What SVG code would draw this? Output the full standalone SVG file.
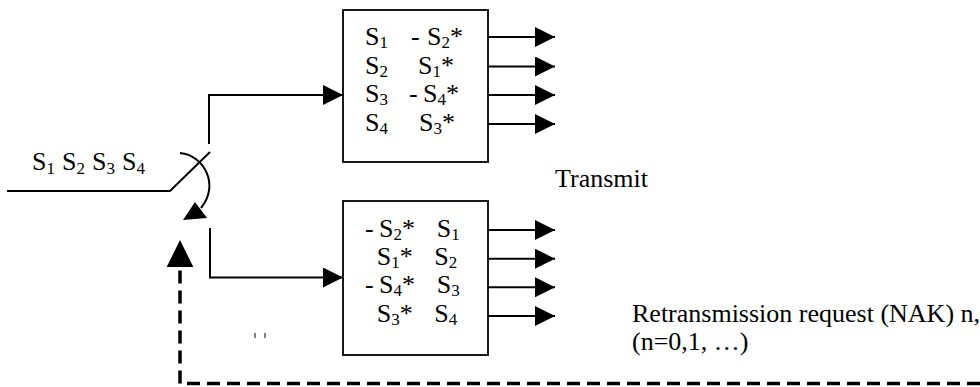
<svg xmlns="http://www.w3.org/2000/svg" width="980" height="387" viewBox="0 0 980 387">
<defs>
<style>
text{font-family:"Liberation Serif","Times New Roman",serif;font-size:26px;fill:#000}
.sub{font-size:17px}
.box{fill:#fff;stroke:#000;stroke-width:1.8}
.ln{fill:none;stroke:#000;stroke-width:2}
.dash{fill:none;stroke:#000;stroke-width:3.5;stroke-dasharray:13 7}
</style>
<marker id="ah" markerUnits="userSpaceOnUse" markerWidth="20" markerHeight="20" refX="20" refY="10" orient="auto" viewBox="0 0 20 20">
<path d="M0,0 L20,10 L0,20 Z" fill="#000"/>
</marker>
</defs>
<g id="connectors">
<path class="ln" d="M7,191 L170,191 L210,152" stroke-width="3.5"/>
<path class="ln" d="M209,144 L209,95 L343,95" marker-end="url(#ah)"/>
<path class="ln" d="M210,228 L210,277.5 L343,277.5" marker-end="url(#ah)"/>
<path class="ln" d="M180,153 C204,155 220,185 201,208"/>
<polygon points="183,220 207,218 195,202" fill="#000"/>
<path class="dash" d="M980,383.5 L180,383.5 L180,266"/>
<polygon points="166.7,267 193.3,267 180,240" fill="#000"/>
<path class="ln" d="M488,37 L555,37" marker-end="url(#ah)"/>
<path class="ln" d="M488,66.5 L555,66.5" marker-end="url(#ah)"/>
<path class="ln" d="M488,95 L555,95" marker-end="url(#ah)"/>
<path class="ln" d="M488,124 L555,124" marker-end="url(#ah)"/>
<path class="ln" d="M488,230 L555,230" marker-end="url(#ah)"/>
<path class="ln" d="M488,258.7 L555,258.7" marker-end="url(#ah)"/>
<path class="ln" d="M488,287.3 L555,287.3" marker-end="url(#ah)"/>
<path class="ln" d="M488,316 L555,316" marker-end="url(#ah)"/>
<path d="M255,333 L255,338 M265,333 L265,338" stroke="#000" stroke-width="1"/>
</g>
<g id="input-label">
<text x="32" y="170">S<tspan class="sub" dy="4">1</tspan></text>
<text x="62" y="170">S<tspan class="sub" dy="4">2</tspan></text>
<text x="92" y="170">S<tspan class="sub" dy="4">3</tspan></text>
<text x="122" y="170">S<tspan class="sub" dy="4">4</tspan></text>
</g>
<g id="box-top">
<rect class="box" x="343" y="10" width="145" height="152"/>
<text x="365" y="45">S<tspan class="sub" dy="3">1</tspan></text>
<text x="411" y="45">-</text>
<text x="427" y="45">S<tspan class="sub" dy="3">2</tspan><tspan dy="-3">*</tspan></text>
<text x="365" y="73.6">S<tspan class="sub" dy="3">2</tspan></text>
<text x="418" y="73.6">S<tspan class="sub" dy="3">1</tspan><tspan dy="-3">*</tspan></text>
<text x="365" y="102">S<tspan class="sub" dy="3">3</tspan></text>
<text x="409" y="102">-</text>
<text x="423" y="102">S<tspan class="sub" dy="3">4</tspan><tspan dy="-3">*</tspan></text>
<text x="365" y="131">S<tspan class="sub" dy="3">4</tspan></text>
<text x="419" y="131">S<tspan class="sub" dy="3">3</tspan><tspan dy="-3">*</tspan></text>
</g>
<g id="box-bottom">
<rect class="box" x="343" y="201" width="145" height="154"/>
<text x="365" y="236.7">-</text>
<text x="379" y="236.7">S<tspan class="sub" dy="3">2</tspan><tspan dy="-3">*</tspan></text>
<text x="436.7" y="236.7">S<tspan class="sub" dy="3">1</tspan></text>
<text x="376.7" y="265">S<tspan class="sub" dy="3">1</tspan><tspan dy="-3">*</tspan></text>
<text x="434.3" y="265">S<tspan class="sub" dy="3">2</tspan></text>
<text x="365" y="293.3">-</text>
<text x="379" y="293.3">S<tspan class="sub" dy="3">4</tspan><tspan dy="-3">*</tspan></text>
<text x="436.7" y="293.3">S<tspan class="sub" dy="3">3</tspan></text>
<text x="376.7" y="321.7">S<tspan class="sub" dy="3">3</tspan><tspan dy="-3">*</tspan></text>
<text x="434.3" y="321.7">S<tspan class="sub" dy="3">4</tspan></text>
</g>
<g id="labels">
<text x="555" y="187">Transmit</text>
<text x="632" y="322">Retransmission request (NAK) n,</text>
<text x="632" y="350">(n=0,1, …)</text>
</g>
</svg>
